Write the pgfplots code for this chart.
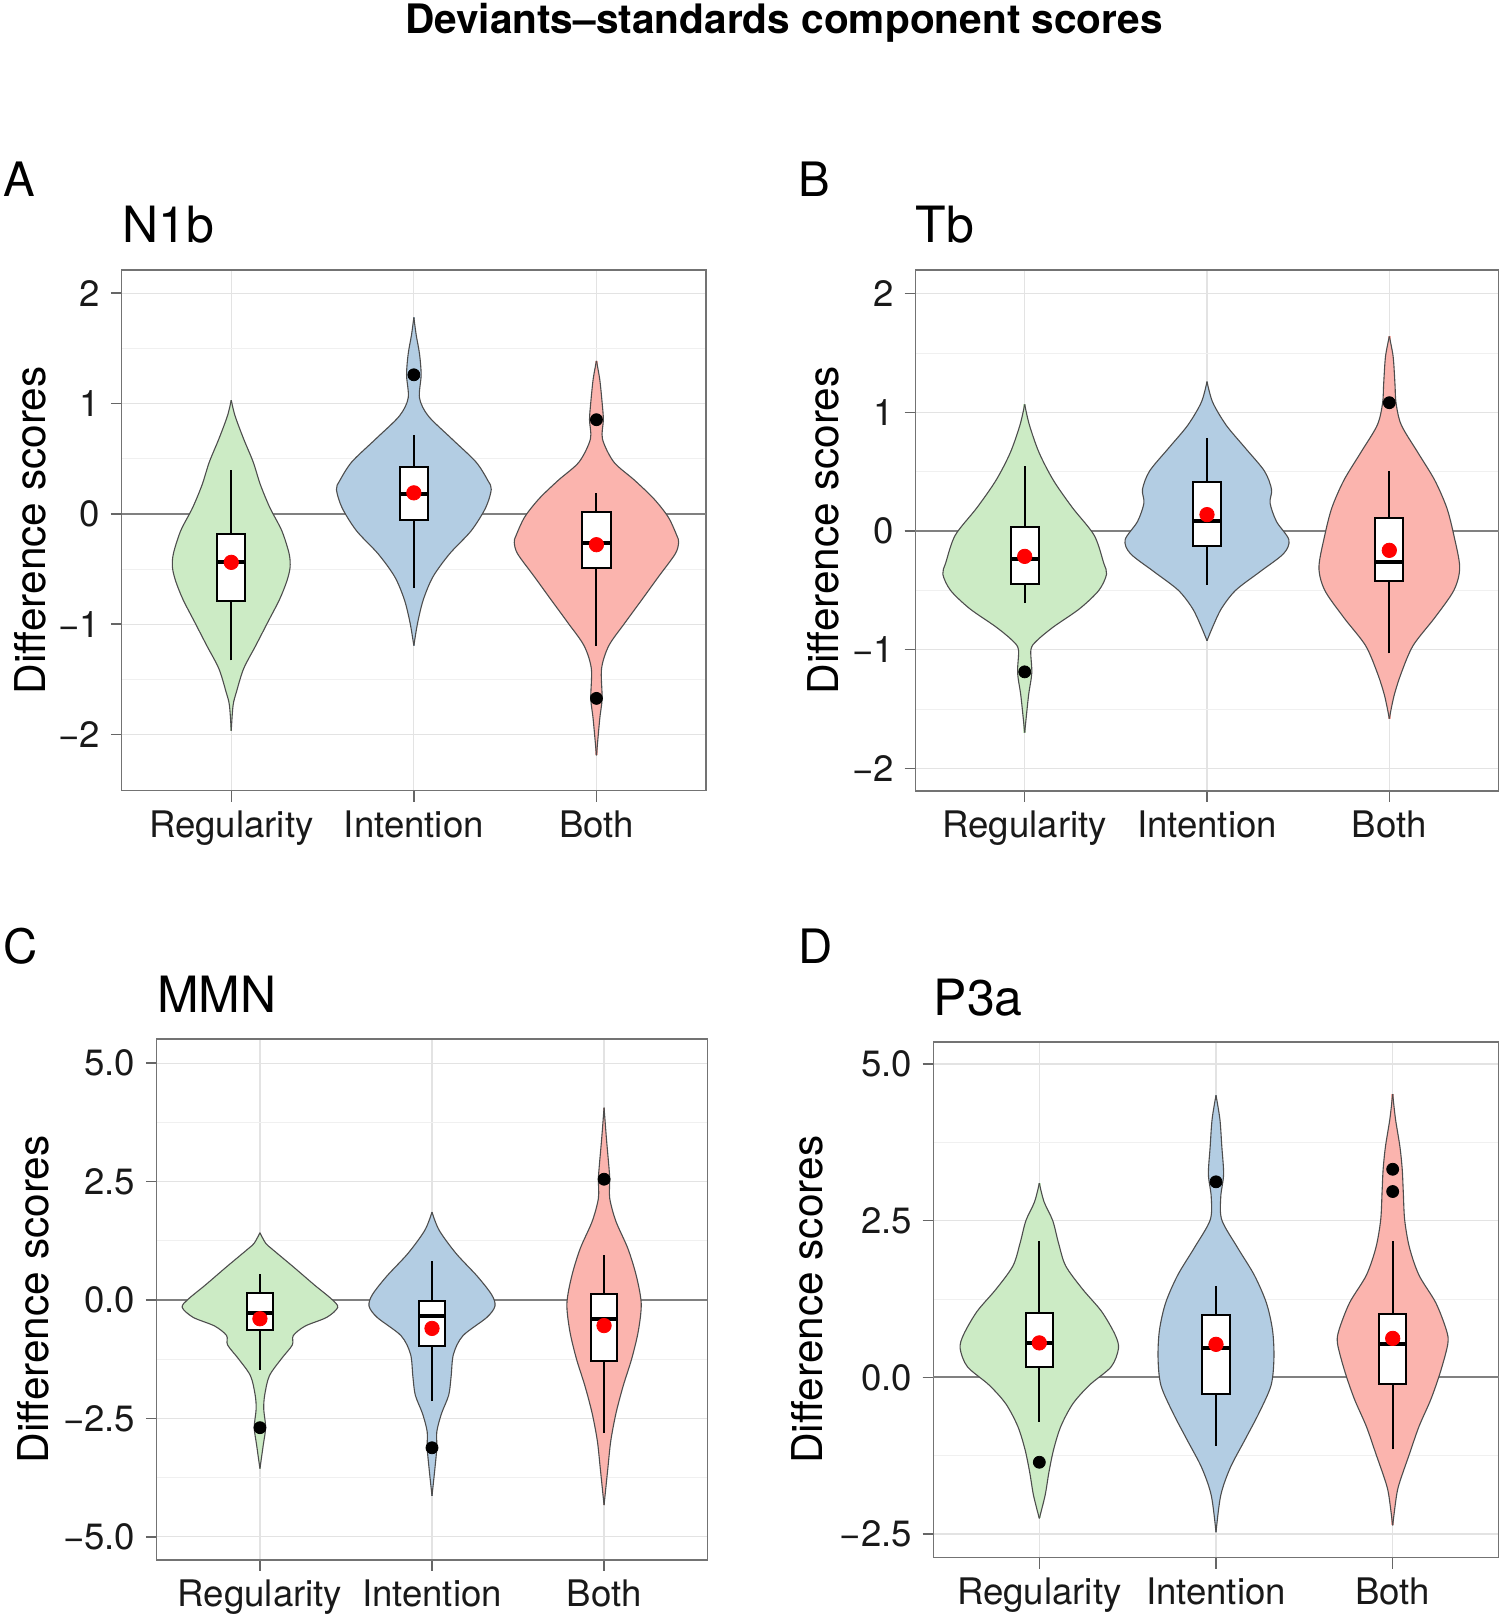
\documentclass[border=0pt]{standalone}
\usepackage{pgfplots}
\pgfplotsset{compat=1.18}
\usepackage{pgfplotstable}
\usepackage{fontspec}
\setmainfont{TeX Gyre Heros}

\definecolor{cReg}{HTML}{CCEBC5}
\definecolor{cInt}{HTML}{B3CDE3}
\definecolor{cBoth}{HTML}{FBB4AE}
\definecolor{vline}{HTML}{4D4D4D}

% ---------- violin half-widths (y, half width in category units) ----------
\pgfplotstableread{
y w
1.03 0
0.887 0.021
0.678 0.068
0.470 0.120
0.262 0.160
0.054 0.212
-0.154 0.277
-0.362 0.317
-0.487 0.322
-0.612 0.304
-0.778 0.264
-0.986 0.199
-1.195 0.134
-1.403 0.068
-1.611 0.029
-1.736 0.010
-1.965 0
}\tAreg
\pgfplotstableread{
y w
1.78 0
1.62 0.013
1.45 0.031
1.26 0.040
1.05 0.031
0.887 0.079
0.678 0.209
0.47 0.340
0.30 0.406
0.22 0.424
0.054 0.393
-0.154 0.314
-0.362 0.196
-0.57 0.105
-0.778 0.052
-0.986 0.021
-1.195 0
}\tAint
\pgfplotstableread{
y w
1.386 0
1.22 0.018
1.01 0.031
0.853 0.038
0.678 0.033
0.47 0.095
0.304 0.209
0.137 0.314
-0.029 0.393
-0.196 0.440
-0.258 0.450
-0.362 0.432
-0.57 0.340
-0.778 0.249
-0.986 0.157
-1.195 0.068
-1.403 0.028
-1.673 0.031
-1.86 0.018
-2.19 0
}\tAboth

\pgfplotstableread{
y w
1.067 0
0.893 0.026
0.661 0.079
0.429 0.157
0.197 0.262
-0.035 0.381
-0.267 0.433
-0.363 0.449
-0.499 0.407
-0.653 0.302
-0.808 0.157
-0.924 0.066
-1.0 0.034
-1.194 0.039
-1.387 0.021
-1.697 0
}\tBreg
\pgfplotstableread{
y w
1.26 0
1.086 0.031
0.893 0.105
0.70 0.210
0.506 0.315
0.352 0.354
0.236 0.346
0.081 0.381
-0.073 0.449
-0.19 0.420
-0.344 0.289
-0.499 0.157
-0.653 0.079
-0.808 0.031
-0.924 0
}\tBint
\pgfplotstableread{
y w
1.64 0
1.47 0.021
1.24 0.031
1.078 0.037
0.893 0.066
0.661 0.157
0.429 0.249
0.197 0.315
-0.035 0.354
-0.305 0.386
-0.499 0.354
-0.73 0.249
-0.963 0.131
-1.194 0.066
-1.387 0.026
-1.58 0
}\tBboth

\pgfplotstableread{
y w
1.42 0
1.2 0.033
1.08 0.069
0.70 0.194
0.31 0.319
0.02 0.416
-0.155 0.452
-0.367 0.388
-0.55 0.263
-0.75 0.194
-0.95 0.188
-1.24 0.125
-1.6 0.055
-2.0 0.028
-2.3 0.022
-2.69 0.033
-3.07 0.019
-3.56 0
}\tCreg
\pgfplotstableread{
y w
1.855 0
1.47 0.042
0.986 0.139
0.502 0.263
0.116 0.346
-0.126 0.366
-0.367 0.319
-0.754 0.180
-1.14 0.125
-1.62 0.111
-2.01 0.097
-2.40 0.055
-2.78 0.028
-3.12 0.028
-3.556 0.017
-4.135 0
}\tCint
\pgfplotstableread{
y w
4.06 0
3.40 0.014
2.82 0.028
2.55 0.033
2.145 0.033
1.66 0.069
1.082 0.139
0.502 0.188
-0.077 0.216
-0.657 0.199
-1.237 0.161
-1.816 0.111
-2.396 0.069
-2.976 0.039
-3.556 0.022
-4.33 0
}\tCboth

\pgfplotstableread{
y w
3.097 0
2.80 0.027
2.50 0.076
2.14 0.109
1.78 0.149
1.41 0.244
1.05 0.353
0.68 0.429
0.46 0.448
0.17 0.407
-0.12 0.285
-0.42 0.190
-0.78 0.122
-1.15 0.081
-1.52 0.054
-1.88 0.033
-2.25 0
}\tDreg
\pgfplotstableread{
y w
4.50 0
4.12 0.022
3.68 0.033
3.24 0.043
2.88 0.027
2.51 0.033
2.07 0.122
1.63 0.217
1.19 0.285
0.754 0.320
0.315 0.328
-0.124 0.312
-0.564 0.244
-1.0 0.163
-1.44 0.081
-1.88 0.027
-2.47 0
}\tDint
\pgfplotstableread{
y w
4.52 0
4.12 0.016
3.68 0.041
3.32 0.054
2.96 0.060
2.51 0.068
2.07 0.095
1.63 0.149
1.19 0.244
0.754 0.304
0.534 0.312
0.095 0.271
-0.344 0.217
-0.783 0.149
-1.22 0.095
-1.66 0.041
-1.88 0.022
-2.36 0
}\tDboth

\newcommand{\violin}[3]{%
  \addplot[fill=#3, draw=none, smooth, forget plot] table[x expr=#1+\thisrow{w}, y=y]{#2} -- cycle;
  \addplot[fill=#3, draw=none, smooth, forget plot] table[x expr=#1-\thisrow{w}, y=y]{#2} -- cycle;
  \addplot[draw=#3, line width=1.2pt, forget plot] table[x expr=#1, y=y]{#2};
  \addplot[draw=vline, line width=0.55pt, smooth, forget plot] table[x expr=#1+\thisrow{w}, y=y]{#2};
  \addplot[draw=vline, line width=0.55pt, smooth, forget plot] table[x expr=#1-\thisrow{w}, y=y]{#2};
}
% center, lower whisker, lower quartile, median, upper quartile, upper whisker
\newcommand{\boxp}[6]{%
  \addplot[draw=black, line width=1pt, forget plot] table[row sep=\\, x expr=#1, y=v]{v\\ #2\\ #3\\};
  \addplot[draw=black, line width=1pt, forget plot] table[row sep=\\, x expr=#1, y=v]{v\\ #5\\ #6\\};
  \addplot[draw=black, fill=white, line width=1pt, forget plot] table[row sep=\\, x expr=#1+\thisrow{d}, y=v]{d v\\ -0.0775 #3\\ 0.0775 #3\\ 0.0775 #5\\ -0.0775 #5\\} -- cycle;
  \addplot[draw=black, line width=2pt, forget plot] table[row sep=\\, x expr=#1+\thisrow{d}, y=v]{d v\\ -0.0775 #4\\ 0.0775 #4\\};
}

\pgfplotsset{
  panel/.style={
    scale only axis, anchor=south west,
    xmin=0.4, xmax=3.6,
    xtick={1,2,3}, xticklabels={Regularity,Intention,Both},
    tick pos=left, tick align=outside,
    major tick length=5.4pt, minor tick length=0pt,
    axis line style={draw=black!55, line width=0.7pt},
    tick style={draw=black!60, line width=0.7pt},
    xmajorgrids, ymajorgrids, yminorgrids,
    major grid style={draw=black!11, line width=0.6pt},
    minor grid style={draw=black!6, line width=0.4pt},
    tick label style={font=\fontsize{18.3}{20}\selectfont, text=black!90},
    xticklabel style={anchor=base, inner sep=0pt, yshift=-17.9pt},
    yticklabel style={anchor=east, inner sep=0pt, xshift=-5.1pt},
    extra y ticks={0}, extra y tick labels={},
    extra y tick style={grid=major, major grid style={draw=black!50, line width=1.1pt}},
  },
  meanm/.style={only marks, mark=*, mark size=3.6pt, mark options={draw=red, fill=red}},
  outm/.style={only marks, mark=*, mark size=3pt, mark options={draw=black, fill=black}},
}

\begin{document}
\begin{tikzpicture}
\useasboundingbox (0,0) rectangle (751.5pt,-809.5pt);

% title and panel letters
\node[anchor=base, font=\bfseries\fontsize{20.3}{24}\selectfont] at (392pt,-16.5pt) {Deviants–standards component scores};
\node[anchor=base west, inner sep=0pt, font=\fontsize{23.7}{26}\selectfont] at (1.5pt,-98pt) {A};
\node[anchor=base west, inner sep=0pt, font=\fontsize{23.7}{26}\selectfont] at (399pt,-98pt) {B};
\node[anchor=base west, inner sep=0pt, font=\fontsize{23.7}{26}\selectfont] at (1.5pt,-481.5pt) {C};
\node[anchor=base west, inner sep=0pt, font=\fontsize{23.7}{26}\selectfont] at (399pt,-481.5pt) {D};

% panel titles
\node[anchor=base west, inner sep=0pt, font=\fontsize{25}{28}\selectfont] at (60.85pt,-121.3pt) {N1b};
\node[anchor=base west, inner sep=0pt, font=\fontsize{25}{28}\selectfont] at (457.65pt,-121.3pt) {Tb};
\node[anchor=base west, inner sep=0pt, font=\fontsize{25}{28}\selectfont] at (78.35pt,-506.25pt) {MMN};
\node[anchor=base west, inner sep=0pt, font=\fontsize{25}{28}\selectfont] at (466.65pt,-507.75pt) {P3a};

% y labels
\node[rotate=90, anchor=base, inner sep=0pt, font=\fontsize{21.2}{24}\selectfont] at (22.75pt,-265.2pt) {Difference scores};
\node[rotate=90, anchor=base, inner sep=0pt, font=\fontsize{21.2}{24}\selectfont] at (419pt,-265.25pt) {Difference scores};
\node[rotate=90, anchor=base, inner sep=0pt, font=\fontsize{21.2}{24}\selectfont] at (24pt,-649.75pt) {Difference scores};
\node[rotate=90, anchor=base, inner sep=0pt, font=\fontsize{21.2}{24}\selectfont] at (411pt,-649.9pt) {Difference scores};

% ---------------- A: N1b ----------------
\begin{axis}[panel, at={(60.85pt,-395.35pt)}, width=292.15pt, height=260.35pt,
  ymin=-2.51, ymax=2.21, ytick={-2,-1,0,1,2}, yticklabels={−2,−1,0,1,2},
  minor ytick={-1.5,-0.5,0.5,1.5}]
  \violin{1}{\tAreg}{cReg}
  \violin{2}{\tAint}{cInt}
  \violin{3}{\tAboth}{cBoth}
  \boxp{1}{-1.328}{-0.787}{-0.437}{-0.187}{0.40}
  \boxp{2}{-0.674}{-0.058}{0.179}{0.425}{0.716}
  \boxp{3}{-1.195}{-0.495}{-0.266}{0.012}{0.187}
  \addplot[outm] coordinates {(2,1.26) (3,0.853) (3,-1.673)};
  \addplot[meanm] coordinates {(1,-0.44) (2,0.19) (3,-0.28)};
\end{axis}

% ---------------- B: Tb ----------------
\begin{axis}[panel, at={(457.65pt,-395.5pt)}, width=291.7pt, height=260.5pt,
  ymin=-2.19, ymax=2.2, ytick={-2,-1,0,1,2}, yticklabels={−2,−1,0,1,2},
  minor ytick={-1.5,-0.5,0.5,1.5}]
  \violin{1}{\tBreg}{cReg}
  \violin{2}{\tBint}{cInt}
  \violin{3}{\tBboth}{cBoth}
  \boxp{1}{-0.607}{-0.444}{-0.236}{0.035}{0.545}
  \boxp{2}{-0.452}{-0.124}{0.081}{0.41}{0.785}
  \boxp{3}{-1.03}{-0.421}{-0.259}{0.108}{0.506}
  \addplot[outm] coordinates {(1,-1.186) (3,1.082)};
  \addplot[meanm] coordinates {(1,-0.213) (2,0.139) (3,-0.162)};
\end{axis}

% ---------------- C: MMN ----------------
\begin{axis}[panel, at={(78.35pt,-780pt)}, width=275.3pt, height=260.5pt,
  ymin=-5.49, ymax=5.51, ytick={-5,-2.5,0,2.5,5}, yticklabels={−5.0,−2.5,0.0,2.5,5.0},
  minor ytick={-3.75,-1.25,1.25,3.75}]
  \violin{1}{\tCreg}{cReg}
  \violin{2}{\tCint}{cInt}
  \violin{3}{\tCboth}{cBoth}
  \boxp{1}{-1.478}{-0.638}{-0.28}{0.145}{0.55}
  \boxp{2}{-2.135}{-0.966}{-0.33}{-0.03}{0.82}
  \boxp{3}{-2.80}{-1.295}{-0.396}{0.126}{0.947}
  \addplot[outm] coordinates {(1,-2.696) (2,-3.12) (3,2.55)};
  \addplot[meanm] coordinates {(1,-0.396) (2,-0.6) (3,-0.54)};
\end{axis}

% ---------------- D: P3a ----------------
\begin{axis}[panel, at={(466.65pt,-778.85pt)}, width=282.7pt, height=257.85pt,
  ymin=-2.877, ymax=5.35, ytick={-2.5,0,2.5,5}, yticklabels={−2.5,0.0,2.5,5.0},
  minor ytick={-1.25,1.25,3.75}]
  \violin{1}{\tDreg}{cReg}
  \violin{2}{\tDint}{cInt}
  \violin{3}{\tDboth}{cBoth}
  \boxp{1}{-0.71}{0.168}{0.549}{1.025}{2.18}
  \boxp{2}{-1.09}{-0.27}{0.468}{0.996}{1.45}
  \boxp{3}{-1.15}{-0.102}{0.534}{1.01}{2.18}
  \addplot[outm] coordinates {(1,-1.354) (2,3.12) (3,3.32) (3,2.965)};
  \addplot[meanm] coordinates {(1,0.55) (2,0.527) (3,0.622)};
\end{axis}
\end{tikzpicture}
\end{document}
